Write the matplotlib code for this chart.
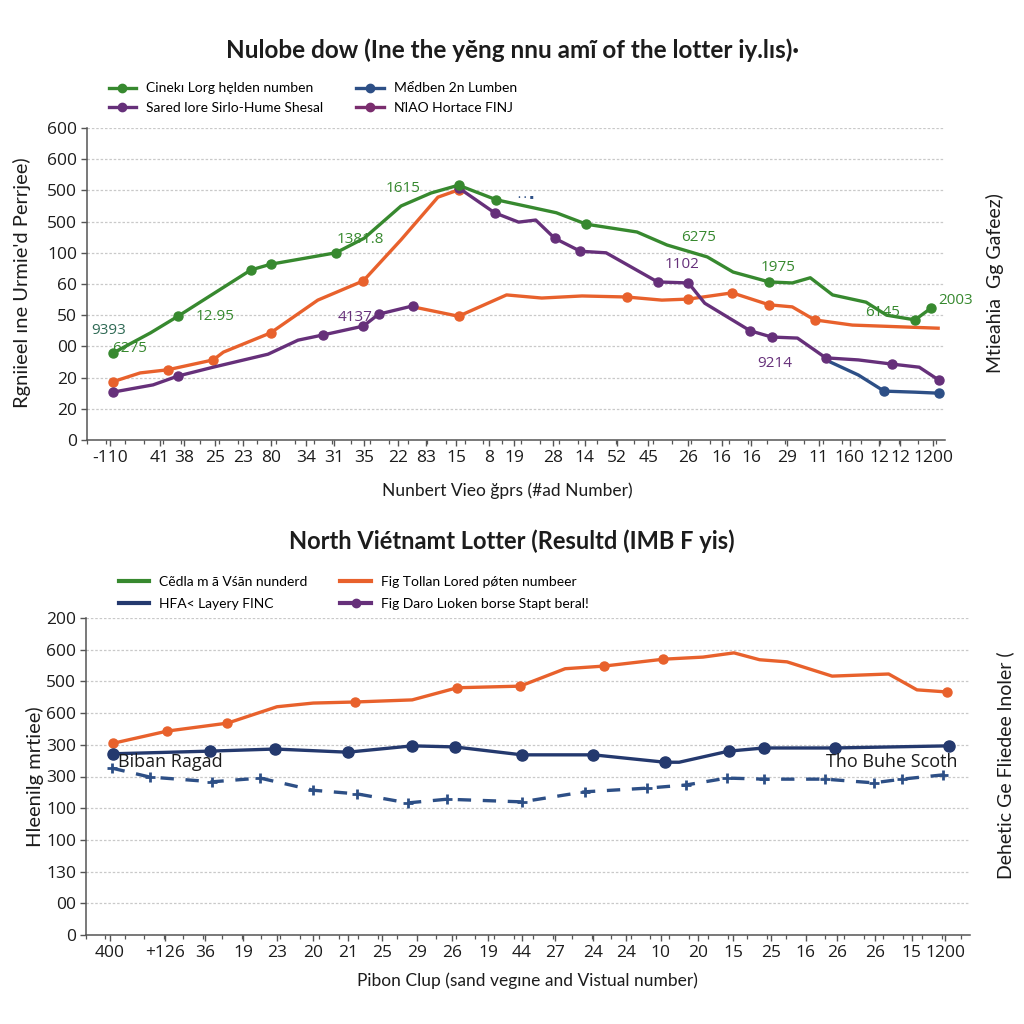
"""Garbled lottery line charts, two stacked panels."""
import matplotlib
matplotlib.use("Agg")
import matplotlib.pyplot as plt
from matplotlib.lines import Line2D
from matplotlib.ticker import FixedLocator, MultipleLocator

GREEN = "#37892f"
ORANGE = "#e8612c"
PURPLE = "#66307a"
PURPLE2 = "#7a2d6e"
BLUE = "#2d4f86"
NAVY = "#24396e"
GRID = "#c9c9c9"
INK = "#1c1c1c"
NARROW = ["Lato", "DejaVu Sans"]
TICKF = ["Open Sans", "DejaVu Sans"]

plt.rcParams["font.family"] = NARROW

# ---------------------------------------------------------------- top panel
top_yticklabels = ["0", "20", "20", "00", "50", "60", "100", "500", "500", "600", "600"]
top_xpos = [2.7, 8.5, 11.3, 14.9, 18.2, 21.5, 25.5, 28.8, 32.3, 36.3, 39.5, 43.0, 46.9,
            49.8, 54.3, 58.0, 61.8, 65.4, 70.1, 74.0, 77.4, 81.6, 85.3, 88.9, 92.3, 94.8, 98.6]
top_xlabels = ["-110", "41", "38", "25", "23", "80", "34", "31", "35", "22", "83", "15", "8",
               "19", "28", "14", "52", "45", "26", "16", "16", "29", "11", "160", "12", "12", "1200"]

green_x = [3.0, 7.4, 10.6, 19.1, 21.4, 29.0, 32.3, 36.6, 40.1, 43.3, 47.7, 54.7, 58.2,
           64.1, 67.6, 72.3, 75.3, 79.5, 82.2, 84.3, 86.9, 90.8, 93.2, 96.5, 98.4]
green_y = [167, 206, 238, 327, 338, 360, 388, 450, 475, 490, 462, 437, 415,
           400, 375, 352, 323, 304, 302, 312, 279, 265, 240, 231, 254]
green_marks = [0, 2, 3, 4, 5, 9, 10, 12, 17, 23, 24]

orange_rise_x = [3.0, 6.2, 9.4, 14.7, 15.9, 21.4, 26.9, 32.2, 36.6, 40.9, 43.3]
orange_rise_y = [112, 129, 135, 154, 169, 206, 269, 306, 385, 467, 481]
orange_rise_marks = [0, 2, 3, 5, 7, 10]

orange_flat_x = [38.0, 43.3, 48.9, 53.0, 57.7, 62.9, 67.0, 70.1, 75.2, 79.5, 82.2, 84.8, 89.2, 99.2]
orange_flat_y = [256, 238, 279, 273, 277, 275, 269, 271, 283, 260, 256, 231, 221, 215]
orange_flat_marks = [1, 5, 7, 8, 9, 11]

purple_low_x = [3.0, 7.7, 10.6, 14.7, 21.1, 24.6, 27.5, 32.2, 34.0, 38.0]
purple_low_y = [92, 106, 123, 140, 165, 192, 202, 219, 242, 258]
purple_low_marks = [0, 2, 6, 7, 8, 9]

purple_high_x = [43.3, 47.5, 50.3, 52.3, 54.5, 57.5, 60.5, 66.5, 70.1, 72.0, 77.3, 79.8,
                 82.8, 86.1, 89.9, 93.8, 97.0, 99.3]
purple_high_y = [485, 437, 419, 423, 388, 363, 360, 304, 302, 263, 210, 198,
                 196, 158, 154, 146, 140, 115]
purple_high_marks = [0, 1, 4, 5, 7, 8, 10, 11, 13, 15, 17]

blue_top_x = [86.1, 89.9, 92.9, 96.5, 99.3]
blue_top_y = [154, 125, 94, 92, 90]

top_notes = [  # (x, y, text, color)
    (2.5, 210, "9393", "#2f6a55"), (5.0, 175, "6275", GREEN), (14.9, 237, "12.95", GREEN),
    (31.9, 385, "1381.8", GREEN), (36.8, 483, "1615", GREEN), (31.3, 235, "4137", PURPLE),
    (71.3, 390, "6275", GREEN), (69.4, 338, "1102", PURPLE), (80.6, 331, "1975", GREEN),
    (80.1, 148, "9214", PURPLE), (92.7, 246, "6145", GREEN), (101.2, 269, "2003", GREEN),
]

# ------------------------------------------------------------- bottom panel
bot_yticklabels = ["0", "00", "130", "100", "100", "300", "300", "600", "500", "600", "200"]
bot_xpos = [2.7, 8.9, 13.5, 17.8, 21.6, 25.7, 29.6, 33.5, 37.4, 41.4, 45.5, 49.3,
            53.1, 57.4, 61.1, 65.0, 69.2, 73.2, 77.5, 81.4, 85.0, 89.3, 93.4, 97.2]
bot_xlabels = ["400", "+126", "36", "19", "23", "20", "21", "25", "29", "26", "19", "44",
               "27", "24", "24", "10", "20", "15", "25", "16", "26", "26", "15", "1200"]

orange_b_x = [3.1, 9.2, 16.0, 21.6, 25.7, 30.4, 36.9, 42.0, 49.1, 54.2, 58.6, 65.3,
              69.8, 73.3, 76.2, 79.3, 84.4, 90.8, 94.0, 97.4]
orange_b_y = [363, 386, 401, 432, 439, 441, 445, 468, 471, 504, 509, 522,
              526, 534, 521, 517, 490, 494, 464, 460]
orange_b_marks = [0, 1, 2, 5, 7, 8, 10, 11, 19]

navy_x = [3.1, 14.0, 21.4, 29.6, 36.9, 41.7, 49.3, 57.4, 65.5, 67.1, 72.7, 76.7, 84.7, 97.6]
navy_y = [343, 348, 352, 346, 358, 356, 341, 341, 327, 327, 348, 354, 354, 358]
navy_marks = [0, 1, 2, 3, 4, 5, 6, 7, 8, 10, 11, 12, 13]

dash_x = [2.9, 7.2, 14.3, 19.7, 25.7, 30.7, 36.4, 40.8, 49.3, 56.4, 63.5, 67.9,
          72.5, 76.7, 83.6, 89.1, 92.3, 96.9]
dash_y = [316, 299, 290, 297, 274, 267, 250, 257, 252, 271, 278, 284,
          297, 295, 295, 288, 295, 303]


def style_axes(ax, yticklabels, xpos, xlabels):
    ax.set_xlim(0, 100)
    ax.set_ylim(0, 600)
    ax.set_yticks(range(0, 601, 60))
    ax.set_yticklabels(yticklabels, fontsize=12.5, color=INK, family=TICKF)
    ax.xaxis.set_major_locator(FixedLocator(xpos))
    ax.set_xticklabels(xlabels, fontsize=12.5, color=INK, family=TICKF)
    ax.xaxis.set_minor_locator(MultipleLocator(2.2))
    ax.tick_params(axis="both", which="major", length=4, width=1, color="#555555", pad=3)
    ax.tick_params(axis="x", which="minor", length=3, width=0.9, color="#555555")
    for s in ("top", "right"):
        ax.spines[s].set_visible(False)
    for s in ("left", "bottom"):
        ax.spines[s].set_color("#555555")
        ax.spines[s].set_linewidth(1.1)
    ax.grid(axis="y", color=GRID, lw=0.9, ls=(0, (2, 1.5)))
    ax.set_axisbelow(True)


fig = plt.figure(figsize=(10.24, 10.24), dpi=100)
fig.patch.set_facecolor("white")

ax1 = fig.add_axes([87 / 1024, 1 - 440 / 1024, 858 / 1024, 312 / 1024])
style_axes(ax1, top_yticklabels, top_xpos, top_xlabels)

kw = dict(lw=2.4, marker="o", ms=6.5, clip_on=False, solid_joinstyle="round")
ax1.plot(orange_flat_x, orange_flat_y, color=ORANGE, markevery=orange_flat_marks, zorder=3, **kw)
ax1.plot(orange_rise_x, orange_rise_y, color=ORANGE, markevery=orange_rise_marks, zorder=3, **kw)
ax1.plot(blue_top_x, blue_top_y, color=BLUE, markevery=[2, 4], zorder=3, **kw)
ax1.plot(purple_low_x, purple_low_y, color=PURPLE, markevery=purple_low_marks, zorder=4, **kw)
ax1.plot(purple_high_x, purple_high_y, color=PURPLE, markevery=purple_high_marks, zorder=4, **kw)
ax1.plot(green_x, green_y, color=GREEN, markevery=green_marks, zorder=5, **kw)
for x, y, s, c in top_notes:
    ax1.text(x, y, s, color=c, fontsize=11, ha="center", va="center",
             family=TICKF, zorder=6, clip_on=False)
ax1.text(51.2, 467, "\u00b7 \u00b7 \u25aa", color=BLUE, fontsize=8, ha="center", va="center")

fig.text(0.5, 1 - 50 / 1024, "Nulobe dow (Ine the y\u0115ng nnu am\u0129 of the lotter iy.l\u0131s)\u00b7",
         ha="center", va="center", fontsize=17.5, color=INK, weight="bold")
fig.text(22 / 1024, 1 - 283 / 1024, "Rgniieel \u0131ne Urmie'd Perrjee)", rotation=90,
         ha="center", va="center", fontsize=14.5, color=INK)
fig.text(995 / 1024, 1 - 283 / 1024, "Mtieahia  Gg Gafeez)", rotation=90,
         ha="center", va="center", fontsize=14, color=INK)
fig.text(507 / 1024, 1 - 491 / 1024, "Nunbert Vieo \u011fprs (#ad Number)",
         ha="center", va="center", fontsize=12.5, color=INK)

h_top = [
    Line2D([], [], color=GREEN, lw=2.4, marker="o", ms=6),
    Line2D([], [], color=PURPLE, lw=2.4, marker="o", ms=6),
    Line2D([], [], color=BLUE, lw=2.4, marker="o", ms=6),
    Line2D([], [], color=PURPLE2, lw=2.4, marker="o", ms=6),
]
l_top = ["Cinek\u0131 Lorg h\u0119lden numben", "Sared lore Sirlo-Hume Shesal",
         "M\u1ec3dben 2n Lumben", "N\u038aAO Hortace FINJ"]
fig.legend(h_top, l_top, loc="upper left", bbox_to_anchor=(96 / 1024, 1 - 70 / 1024),
           ncol=2, frameon=False, fontsize=10, handlelength=2.0, handletextpad=0.7,
           columnspacing=2.4, labelspacing=0.55)

# ------------------------------------------------------------- bottom panel
ax2 = fig.add_axes([86 / 1024, 1 - 935 / 1024, 884 / 1024, 317 / 1024])
style_axes(ax2, bot_yticklabels, bot_xpos, bot_xlabels)

ax2.plot(dash_x, dash_y, color=BLUE, lw=2.4, ls=(0, (4, 3.5)), marker="+", ms=7,
         mew=2, clip_on=False, zorder=3)
ax2.plot(orange_b_x, orange_b_y, color=ORANGE, markevery=orange_b_marks, zorder=4, **kw)
ax2.plot(navy_x, navy_y, color=NAVY, markevery=navy_marks, zorder=4,
         **{**kw, "ms": 8})
ax2.text(3.6, 328, "Biban Ragad", fontsize=13, color=INK, ha="left", va="center",
         family=TICKF, zorder=6)
ax2.text(83.7, 328, "Tho Buhe Scoth", fontsize=13, color=INK, ha="left", va="center",
         family=TICKF, zorder=6)

fig.text(0.5, 1 - 541 / 1024, "North Vi\u00e9tnamt Lotter (Resultd (IMB F yis)",
         ha="center", va="center", fontsize=17, color=INK, weight="bold")
fig.text(35 / 1024, 1 - 777 / 1024, "Hleenilg mrtiee)", rotation=90,
         ha="center", va="center", fontsize=14.5, color=INK)
fig.text(1005 / 1024, 1 - 765 / 1024, "Dehetic Ge Fliedee lnoler (", rotation=90,
         ha="center", va="center", fontsize=14, color=INK)
fig.text(527 / 1024, 1 - 981 / 1024, "Pibon Clup (sand veg\u0131ne and Vistual number)",
         ha="center", va="center", fontsize=12.5, color=INK)

h_bot = [
    Line2D([], [], color=GREEN, lw=3),
    Line2D([], [], color=NAVY, lw=3),
    Line2D([], [], color=ORANGE, lw=3),
    Line2D([], [], color=PURPLE, lw=3, marker="o", ms=6),
]
l_bot = ["C\u1ebddla m \u0101 V\u015b\u0101n nunderd", "HFA< Layery FINC",
         "Fig Tollan Lored p\u01fften numbeer", "Fig Daro L\u0131oken borse Stapt beral!"]
fig.legend(h_bot, l_bot, loc="upper left", bbox_to_anchor=(106 / 1024, 1 - 563 / 1024),
           ncol=2, frameon=False, fontsize=10, handlelength=2.2, handletextpad=0.7,
           columnspacing=2.4, labelspacing=0.75)

fig.savefig("out.png", dpi=100, facecolor="white")
